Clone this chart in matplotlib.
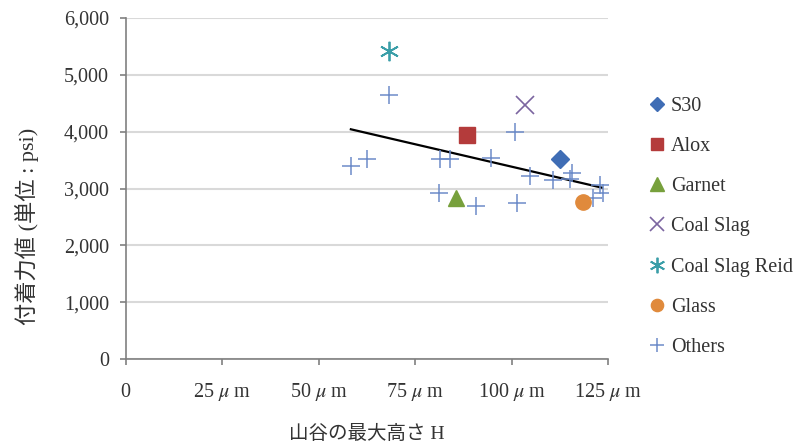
import numpy as np
import matplotlib.pyplot as plt
from matplotlib.ticker import FuncFormatter

plt.rcParams['font.family'] = ['Liberation Serif', 'Noto Sans CJK JP']
plt.rcParams['mathtext.fontset'] = 'stix'

# データ (山谷の最大高さ μm, 付着力値 psi)
s30_x, s30_y = [112.5], [3510]
alox_x, alox_y = [88.3], [3940]
garnet_x, garnet_y = [85.6], [2840]
slag_x, slag_y = [103.3], [4460]
reid_x, reid_y = [68.1], [5420]
glass_x, glass_y = [118.4], [2770]
others_x = [58.3, 62.4, 68.1, 81.4, 84.0, 94.6, 100.7, 104.7, 110.6, 115.5,
            115.0, 122.7, 123.7, 121.1, 81.0, 90.8, 101.3]
others_y = [3400, 3520, 4650, 3520, 3520, 3530, 3990, 3220, 3150, 3280,
            3170, 3060, 2920, 2830, 2920, 2690, 2750]
trend_x = [58.3, 123.3]
trend_y = [4040, 3015]

xticks = [0, 25, 50, 75, 100, 125]
xticklabels = ['$\\mathregular{0}$', '25 $\\mu$ m', '50 $\\mu$ m', '75 $\\mu$ m',
               '100 $\\mu$ m', '125 $\\mu$ m']
yticks = [0, 1000, 2000, 3000, 4000, 5000, 6000]

fig = plt.figure(figsize=(7.98, 4.41), dpi=100)
ax = fig.add_axes([0.1575, 0.185, 0.605, 0.775])

ax.plot(trend_x, trend_y, color='black', lw=1.6, zorder=2)
ax.plot(others_x, others_y, ls='none', marker='+', ms=13, mew=1.1,
        color='#6d8cc9', label='Others', zorder=3)
ax.plot(s30_x, s30_y, ls='none', marker='D', ms=9, color='#3f6db5', label='S30', zorder=4)
ax.plot(alox_x, alox_y, ls='none', marker='s', ms=11, color='#b43b3b', label='Alox', zorder=4)
ax.plot(garnet_x, garnet_y, ls='none', marker='^', ms=12, color='#77a03c', label='Garnet', zorder=4)
ax.plot(slag_x, slag_y, ls='none', marker='x', ms=13, mew=1.2, color='#7b65a0', label='Coal Slag', zorder=4)
ax.plot(reid_x, reid_y, ls='none', marker=(6, 2, 0), ms=14, mew=1.3, color='#3a9ea8',
        label='Coal Slag Reid', zorder=4)
ax.plot(glass_x, glass_y, ls='none', marker='o', ms=11, color='#e08a3c', label='Glass', zorder=4)

ax.set_xlim(0, 125)
ax.set_ylim(0, 6000)
ax.set_xticks(xticks)
ax.set_yticks(yticks)
ax.yaxis.set_major_formatter(FuncFormatter(lambda v, p: '{:,.0f}'.format(v)))
ax.tick_params(labelsize=14.5, colors='#808080', labelcolor='#333333', length=4, width=1.2)
ax.tick_params(axis='y', pad=8)
ax.tick_params(axis='x', pad=23)
ax.set_xticklabels(xticklabels, va='baseline')
ax.grid(axis='y', color='#d9d9d9', lw=1.5)
ax.set_axisbelow(True)
for s in ['top', 'right']:
    ax.spines[s].set_visible(False)
for s in ['left', 'bottom']:
    ax.spines[s].set_color('#808080')
    ax.spines[s].set_linewidth(1.2)

ax.set_xlabel('山谷の最大高さ H', fontsize=14, color='#333333')
ax.xaxis.set_label_coords(0.5, -0.19)
ax.set_ylabel('付着力値 (単位 : psi)', fontsize=16, color='#333333')
ax.yaxis.set_label_coords(-0.18, 0.39)

handles, labels = ax.get_legend_handles_labels()
order = ['S30', 'Alox', 'Garnet', 'Coal Slag', 'Coal Slag Reid', 'Glass', 'Others']
hmap = dict(zip(labels, handles))
leg = fig.legend([hmap[k] for k in order], order, loc='upper left',
                 bbox_to_anchor=(0.79, 0.822), frameon=False, fontsize=14.5,
                 handlelength=0.8, handletextpad=0.3, labelspacing=1.05,
                 markerscale=0.8, labelcolor='#333333')

fig.savefig('out.png', dpi=100)
